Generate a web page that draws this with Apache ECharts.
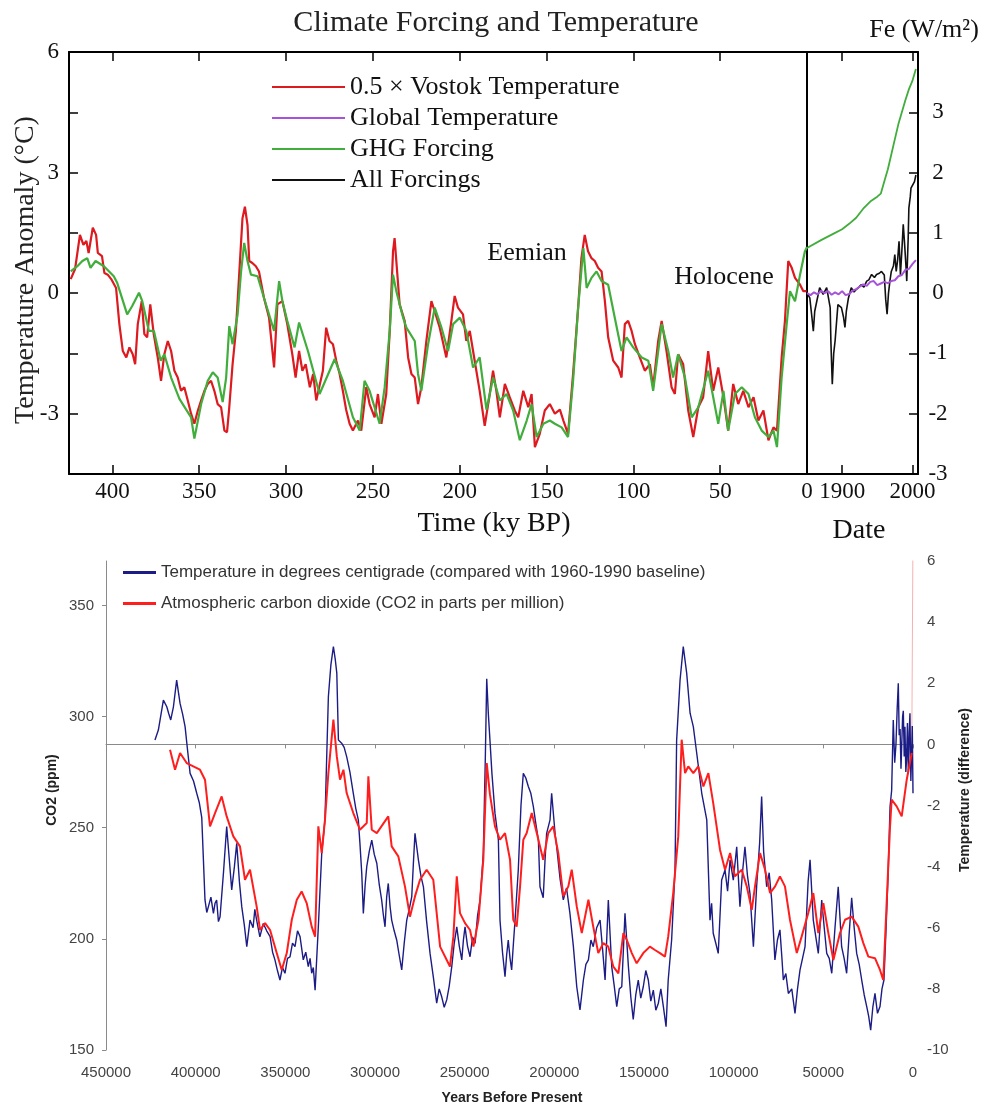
<!DOCTYPE html>
<html>
<head>
<meta charset="utf-8">
<title>Climate Forcing and Temperature</title>
<script src="https://cdn.jsdelivr.net/npm/echarts@6/dist/echarts.min.js"></script>
<style>
  html, body { margin: 0; padding: 0; background: #fff; }
  #chart { width: 986px; height: 1108px; }
</style>
</head>
<body>
<div id="chart"></div>
<script>
// ---------- Upper panel: Vostok record (ky before present) ----------
const vostokAgeKy = [424,421.5,418.7,416.7,415,413.7,411.3,409.4,408.4,406,404.6,402.7,400.7,397.9,396,394,392,390.2,388.3,386.9,385.4,383.1,381.6,380,378.2,376.2,373.9,372,370.1,368.1,366.2,364.3,362.4,360.5,358.6,356.6,354.7,352.8,350.8,348.9,347,345.1,343.2,341.3,339.4,337.4,335.5,334,332.7,330.8,328.9,327,325.1,323.7,322.2,321.2,319.4,317.4,315.6,312.7,309.8,306.9,305,302.1,299.3,296.4,294.5,292.5,290.6,288.7,286.3,284.4,282.6,280.7,278.8,276.9,275,273,271.1,269.2,267.3,265.4,263.4,261.5,258.6,256.7,253.8,251.9,249,247.1,245.1,242.3,240.3,238.4,237.5,236.5,234.6,231.7,229.7,227.8,225.9,224,222.1,219.2,216.3,214.4,211.5,207.7,204.8,202.9,201,198.1,196.2,194.2,192.3,188.5,185.6,183,180.8,178.9,176.9,174,171.2,168.3,166.3,163.4,160.5,158.6,156.7,153.9,151,148.1,145.2,142.3,140.3,137.6,134.7,131.8,129.9,128,126.1,124.1,122.2,120.3,118.3,116.4,114.5,111.6,108.7,106.8,104.9,103,101,99.1,96.3,93.4,90.5,88.6,85.7,83.7,80.9,78,76.1,74.2,71.3,68.4,65.5,62.6,59.8,56.9,54,51.1,48.1,45.4,42.5,39.6,36.7,33.7,30.8,28,25.1,22.2,19.3,17.3,14.6,12.7,10.8,8.8,6.9,4,2.1,0.2];
const vostokHalfTempC = [0.35,0.6,1.45,1.2,1.3,1.0,1.63,1.45,1.0,0.92,0.5,0.46,0.35,0.13,-0.77,-1.44,-1.6,-1.35,-1.52,-1.77,-0.77,-0.2,-1.02,-1.1,-0.28,-1.02,-1.6,-2.18,-1.52,-1.19,-1.44,-1.93,-2.1,-2.43,-2.34,-2.67,-3.0,-3.25,-2.92,-2.67,-2.43,-2.26,-2.18,-2.43,-2.76,-2.84,-3.42,-3.46,-2.84,-1.77,-0.94,0.46,1.86,2.15,1.7,0.8,0.75,0.67,0.54,-0.12,-0.61,-1.85,-0.28,-0.2,-0.77,-1.52,-2.1,-1.44,-1.93,-1.77,-2.34,-2.01,-2.67,-2.3,-1.93,-0.86,-1.19,-1.27,-1.68,-2.0,-2.43,-2.9,-3.25,-3.42,-3.17,-3.42,-2.34,-2.76,-3.09,-2.51,-3.25,-2.51,-0.94,1.04,1.37,0.8,-0.28,-0.69,-1.6,-2.01,-2.1,-2.76,-2.34,-1.19,-0.2,-0.45,-0.86,-1.6,-0.69,-0.07,-0.36,-0.53,-1.19,-0.94,-1.44,-2.43,-3.3,-2.6,-1.93,-2.43,-3.09,-2.26,-2.59,-2.92,-3.09,-2.43,-2.84,-2.51,-3.83,-3.5,-2.92,-2.76,-3.0,-2.9,-3.17,-3.5,-2.01,-0.36,0.87,1.45,1.04,0.87,0.8,0.63,0.54,-0.2,-1.1,-1.68,-1.85,-2.1,-0.77,-0.69,-0.94,-1.27,-1.6,-1.93,-1.77,-2.34,-1.19,-0.69,-1.44,-2.34,-2.51,-1.52,-1.77,-2.92,-3.58,-2.84,-2.59,-1.44,-2.43,-1.85,-2.59,-3.42,-2.26,-2.76,-2.43,-2.84,-2.59,-3.17,-2.92,-3.66,-3.34,-3.42,-1.6,-0.69,0.8,0.63,0.38,0.21,0.05,0.05];

// Paleo greenhouse-gas forcing, expressed on the temperature scale (1 W/m2 = 1.5 degC)
const ghgPaleoAgeKy = [424,420.2,417.3,414.5,412.6,409.7,404.9,399.2,397.2,391.5,388.6,384.7,382.8,379,376.1,372.2,370.1,366.2,361.4,354.7,352.8,348.9,345.1,342.2,339.4,336.5,334.5,332.7,330.8,327.9,325.9,324.1,322.2,320.2,316.4,312.7,306.9,304,302.1,299.3,295.1,292.5,287.4,280.7,272,267.3,261.5,257.6,254.8,251.9,246.1,243.2,240.3,238.4,236.5,232.6,230.7,225.9,224,222.1,218.2,214.4,210.5,206.7,203.8,199.9,196.2,192.3,188.5,184.6,180.7,176.9,173,169.2,165.4,161.4,158.6,155.7,151.8,148.1,145.2,141.3,137.6,134.7,131.8,128.8,126.9,124.1,121.2,118.3,114.5,110.7,106.8,103.9,100.1,95.2,91.4,88.6,83.7,79.9,77.1,74.2,70.3,66.4,62.6,56.9,51.1,48.1,45.4,41.5,37.6,33.7,30,26.1,22.2,19.3,17.3,14.6,11.7,9.8,6.9,4,1.2,0];
const ghgPaleoScaled = [0.54,0.67,0.8,0.87,0.63,0.8,0.67,0.42,0.25,-0.53,-0.32,0.01,-0.2,-0.94,-0.94,-1.68,-1.52,-2.1,-2.63,-3.09,-3.62,-2.76,-2.18,-1.97,-2.1,-2.71,-2.1,-0.82,-1.27,-0.53,0.54,1.25,0.8,0.46,0.42,-0.12,-0.94,0.3,-0.2,-0.69,-1.35,-0.73,-1.44,-2.51,-1.64,-2.18,-3.09,-3.42,-2.18,-2.43,-3.25,-2.34,-0.94,0.46,0.05,-0.61,-0.86,-1.19,-2.01,-2.43,-1.27,-0.36,-0.86,-1.44,-0.77,-0.61,-0.94,-1.85,-1.6,-2.9,-2.1,-2.67,-2.51,-2.92,-3.66,-3.17,-2.76,-3.58,-3.25,-3.17,-3.25,-3.34,-3.58,-2.18,-0.36,1.12,0.13,0.38,0.54,0.3,0.21,-0.61,-1.44,-1.1,-1.35,-1.6,-1.68,-2.43,-0.77,-1.44,-2.1,-1.52,-2.1,-3.09,-2.84,-1.93,-3.25,-2.43,-3.42,-2.51,-2.34,-2.51,-3.09,-3.42,-3.58,-3.42,-3.83,-2.1,-0.77,0.05,-0.2,0.46,1.04,1.15];

// ---------- Upper panel: instrumental era (calendar years) ----------
const ghgYear = [1850,1870,1890,1900,1910,1920,1930,1940,1950,1955,1960,1965,1970,1975,1980,1985,1990,1995,2000,2005];
const ghgWm2 = [0.75,0.88,1.0,1.06,1.15,1.25,1.4,1.52,1.6,1.65,1.85,2.05,2.3,2.55,2.8,3.0,3.2,3.38,3.52,3.72];

const globalYear = [1850,1855,1860,1865,1870,1875,1880,1885,1890,1895,1900,1905,1910,1915,1920,1925,1930,1935,1940,1945,1950,1955,1960,1965,1970,1975,1980,1985,1990,1995,2000,2005];
const globalTempC = [0.0,-0.05,0.02,-0.03,0.06,0.0,0.05,-0.04,0.02,-0.03,0.05,-0.05,-0.02,0.06,0.1,0.16,0.22,0.18,0.28,0.3,0.2,0.24,0.28,0.25,0.3,0.32,0.42,0.45,0.58,0.6,0.72,0.82];

const allForcingYear = [1850,1854,1857,1859,1861,1864,1868,1873,1878,1883,1884,1886,1888,1890,1894,1899,1902,1904,1906,1909,1913,1917,1920,1924,1927,1931,1935,1938,1942,1946,1949,1953,1956,1960,1962,1964,1966,1968,1970,1973,1975,1977,1979,1981,1982,1983,1985,1987,1989,1991,1992,1994,1995,1997,1998,2000,2003,2005];
const allForcingWm2 = [0,-0.08,-0.4,-0.63,-0.3,-0.13,0.09,-0.02,0.09,-0.24,-0.8,-1.51,-1.0,-0.79,-0.19,-0.24,-0.4,-0.57,-0.3,-0.08,0.09,0.02,0.06,0.1,0.14,0.1,0.2,0.22,0.31,0.26,0.31,0.33,0.36,0.3,-0.1,-0.35,0.0,0.2,0.36,0.45,0.64,0.36,0.55,0.86,0.6,0.3,0.7,1.14,0.8,0.42,0.2,0.9,1.41,1.6,1.74,1.75,1.85,1.96];

const dateTicks = [1900, 2000];

// ---------- Lower panel: ice-core temperature and CO2 (years before present) ----------
const tempAgeYr = [
  422700,420800,418000,416100,415000,413900,412400,410600,408700,407300,405900,404500,403100,401200,399400,398000,396600,394800,
  393800,392900,391500,390100,389200,388300,387300,386400,384500,382700,381200,379900,378400,377100,375600,374300,372900,371500,369700,368000,367000,366000,364200,362300,360400,358500,357100,355800,354400,353000,351600,350200,348800,347400,346000,344600,343200,341800,340000,338600,337200,336200,335300,334400,333400,
  331600,329700,327900,326000,324600,323200,322200,321300,320400,318600,317200,315800,314000,312100,
  310700,309300,308400,307400,306500,305500,304600,303200,301800,300400,299000,297600,296300,295300,294400,293500,292600,291600,290700,289300,287900,286500,285100,283700,282300,280900,279500,278600,277700,275800,274400,273000,271200,269300,267500,265600,264200,262800,261400,260000,258600,257200,255800,254400,253000,251600,250700,249800,248400,247000,245600,244200,242800,241400,
  239600,238500,237700,236800,235900,234800,233100,231200,230300,228900,227500,226600,225700,224700,223800,222800,221900,220100,218600,217300,215900,214500,213100,211700,210300,208900,208000,206200,205200,204300,202400,201500,199600,198700,196800,195000,193200,191300,189400,187500,185700,183800,182400,181000,179600,178300,176400,174500,173100,171700,169900,168000,166600,165200,163800,162400,160600,158700,157300,156000,154600,153200,151800,150400,149000,147600,146200,144800,143400,142000,140600,139200,137700,136500,134600,132700,
  131800,129900,128100,126200,124300,122500,120600,117800,115000,
  113200,112300,111400,110000,108600,106700,104800,103400,102000,100200,98300,96500,95100,93700,92300,90900,89000,87200,85500,84400,83300,81600,80200,78800,77000,75600,74200,73200,72300,70900,69500,67600,65800,64400,63000,61600,60200,58500,57400,55600,54200,52800,50900,49500,48100,46700,45300,43500,41700,39800,38400,37000,35600,34200,32800,31400,30000,28600,27200,25800,24700,23600,22400,21200,19800,18400,17300,16200,15000,13800,
  12800,11900,11000,10200,9500,8800,8200,7700,7200,6700,6300,5800,5400,4900,4500,4000,3600,3100,2600,2100,1700,1200,800,400,0
];
const tempDiffC = [
  0.14,0.47,1.45,1.23,1.0,0.8,1.23,2.1,1.34,1.0,0.58,-0.2,-0.95,-1.2,-1.6,-1.9,-2.4,-5.09,
  -5.5,-5.31,-5.0,-5.53,-5.2,-5.09,-5.8,-5.64,-4.2,-2.69,-3.8,-4.76,-4.0,-3.24,-4.5,-5.31,-5.9,-6.62,-5.75,-6.0,-5.4,-5.75,-6.3,-5.86,-6.1,-6.29,-6.8,-7.05,-7.4,-7.71,-7.3,-7.49,-7.0,-6.95,-6.5,-6.62,-6.1,-6.29,-7.05,-6.8,-7.27,-7.0,-7.49,-7.3,-8.04,
  -5.97,-3.56,-2.47,1.56,2.6,3.2,2.8,2.33,0.14,0.04,-0.1,-0.4,-0.9,-1.6,
  -2.1,-2.47,-3.24,-4.2,-5.53,-4.6,-4.0,-3.5,-3.13,-3.6,-3.89,-4.6,-5.09,-5.6,-5.97,-5.0,-4.55,-5.3,-5.75,-6.1,-6.4,-6.9,-7.38,-6.5,-5.75,-5.4,-4.98,-3.9,-2.91,-3.78,-4.3,-4.66,-5.8,-6.84,-7.6,-8.47,-8.0,-8.26,-8.6,-8.36,-7.9,-7.27,-6.5,-5.97,-6.6,-7.05,-6.4,-5.97,-6.6,-6.95,-6.3,-6.51,-5.6,-5.09,
  -3.56,-0.5,2.15,1.0,0.14,-0.95,-2.25,-3.13,-5.75,-6.8,-7.6,-6.9,-6.4,-7.0,-7.38,-6.5,-5.75,-4.11,-2.0,-0.95,-1.1,-1.38,-1.6,-2.04,-2.6,-3.13,-4.66,-5.02,-3.8,-2.91,-2.47,-1.6,-2.91,-3.35,-4.4,-5.09,-4.7,-5.53,-6.6,-7.93,-8.69,-7.71,-7.2,-7.05,-6.4,-6.62,-6.0,-5.75,-6.7,-7.71,-5.09,-7.27,-7.9,-8.58,-8.0,-7.93,-5.53,-7.27,-8.3,-9.0,-8.2,-7.71,-8.3,-7.93,-7.4,-7.71,-8.4,-8.04,-8.7,-8.47,-8.0,-8.58,-9.24,-7.71,-6.4,-4.11,
  0.14,2.1,3.2,2.33,1.02,0.58,-0.29,-1.6,-2.47,
  -5.75,-5.2,-6.18,-6.5,-6.84,-4.44,-4.11,-4.8,-3.78,-4.44,-3.35,-5.31,-4.2,-3.35,-4.3,-4.88,-6.62,-4.66,-3.2,-1.71,-3.5,-4.66,-4.2,-5.09,-7.05,-6.4,-6.07,-6.9,-7.71,-7.5,-8.15,-8.0,-8.8,-8.0,-7.38,-7.0,-6.62,-4.5,-3.78,-5.75,-6.3,-6.84,-5.09,-6.0,-6.84,-7.0,-7.49,-6.0,-4.66,-6.62,-7.0,-7.49,-6.2,-5.02,-6.0,-6.84,-7.2,-7.71,-8.2,-8.58,-8.9,-9.35,-8.6,-8.15,-8.8,-8.58,-8.0,-7.71,-6.0,-4.11,
  -2.04,-1.5,0.8,-0.6,0.0,1.2,2.0,0.3,0.5,-0.8,-0.07,0.9,1.1,-0.4,0.58,-0.9,-0.5,0.7,-0.95,0.4,1.02,-1.2,-0.4,0.6,-1.6
];

const co2AgeYr = [414300,411500,408700,405000,401300,397600,394800,392000,389200,385500,382700,379000,375300,372500,369700,366000,364100,361300,358500,354800,352000,349200,346400,343600,340900,338100,335300,333400,331600,329700,327900,326000,323200,321300,319500,317600,315800,312100,308400,304600,303700,301800,299000,292600,290700,287000,283300,280500,277700,274900,271200,267500,263700,260000,258200,256300,254400,252600,249800,247000,245100,242300,239600,237700,235900,233100,230300,227500,224700,222900,221000,219100,217300,215400,212600,209800,206200,203400,200600,197800,195000,192200,190300,187500,184700,181000,178300,175500,172700,169900,167100,164300,161500,159600,156800,154100,150400,146700,143900,141100,138300,136500,133700,130900,129000,127100,125300,122500,119700,116900,114100,111400,107600,104800,102000,99300,95500,92700,89900,88100,85300,82500,79700,76900,74200,71400,68600,64800,62100,58400,55600,52800,50000,47200,44400,40700,37900,34200,30500,27700,24900,21200,18400,16600,14700,12800,11900,9100,6300,3500,700];
const co2Ppm = [285.1,276.1,283.6,279.1,277.6,276.1,271.6,250.6,256.6,264.1,255.1,246.1,241.6,226.6,231.1,214.6,204,207.1,204,193.6,186,193.6,208.6,217.6,221.3,216.1,205.5,201,250.6,238.6,253.6,274.6,298.6,282.1,271.6,276.1,265.6,256.6,249.1,252.1,273.1,249.1,247.6,255.1,241.6,237.1,223.6,210,219.1,226.6,231.1,226.6,196.5,190.5,187.5,201,228.1,211.6,207.1,204,196.5,208.6,235.6,279.1,265,250.6,244.6,247.6,235.6,208.6,205.5,223.6,244.6,247.6,256.6,247.6,235.6,247.6,250.6,238.6,219.1,223.6,231.1,214.6,202.6,217.6,205.5,193.6,198.1,196.5,187.5,184.5,202.6,199.5,193.6,189,193.6,196.5,195,193.6,192,201,220.6,246.1,289.6,274.6,277.6,274.6,277.6,268.6,274.6,261.1,240,231.1,238.6,228.1,231.1,223.6,213.1,223.6,238.6,231.1,220.6,223.6,228.1,223.6,208.6,193.6,201,211.6,220.6,202.6,216.1,202.6,190.5,202.6,208.6,210,205.5,198.1,192,191.3,186,181.5,216.1,250.6,262.6,259.6,255.1,271.6,283.6];

// Modern CO2 rise, which runs off the top of the scale
const co2RecentAgeYr = [700, 0];
const co2RecentPpm = [283.6, 382];

const co2TickValues = [150, 200, 250, 300, 350];

const zip = (xs, ys) => xs.map((x, i) => [x, ys[i]]);
const plain = v => String(v);

const serif = 'Liberation Serif';
const sans = 'Liberation Sans';

const NAME_VOSTOK = '0.5 \u00d7 Vostok Temperature';
const NAME_GLOBAL = 'Global Temperature';
const NAME_GHG = 'GHG Forcing';
const NAME_ALL = 'All Forcings';
const NAME_TEMP = 'Temperature in degrees centigrade (compared with 1960-1990 baseline)';
const NAME_CO2 = 'Atmospheric carbon dioxide (CO2 in parts per million)';

const C_RED = '#dc1a1f';
const C_GREEN = '#41ad3c';
const C_PURPLE = '#a653d9';
const C_BLACK = '#111111';
const C_NAVY = '#1c1c86';
const C_CO2 = '#ff1e1e';

const blackLine = { onZero: false, lineStyle: { color: '#000', width: 2 } };
const serifLabel = { fontFamily: serif, fontSize: 23, color: '#111' };
const sansLabel = { fontFamily: sans, fontSize: 15, color: '#444' };

const chart = echarts.init(document.getElementById('chart'), null, { renderer: 'canvas' });

chart.setOption({
  animation: false,
  backgroundColor: '#ffffff',
  grid: [
    { left: 69, top: 52, width: 738, height: 422 },   // paleo panel
    { left: 807, top: 52, width: 111, height: 422 },  // 1850-2008 panel
    { left: 106, top: 561, width: 807, height: 489 }  // ice-core CO2 panel
  ],
  xAxis: [
    { // 0: ky BP, bottom
      gridIndex: 0, type: 'value', min: 0, max: 425, interval: 50, inverse: true, position: 'bottom',
      axisLine: blackLine, splitLine: { show: false },
      axisTick: { inside: true, length: 9, lineStyle: { color: '#000', width: 1.5 } },
      axisLabel: { ...serifLabel, margin: 6, formatter: v => (v % 50 === 0 ? String(v) : '') }
    },
    { // 1: ky BP, top ticks
      gridIndex: 0, type: 'value', min: 0, max: 425, interval: 50, inverse: true, position: 'top',
      axisLine: blackLine, splitLine: { show: false },
      axisTick: { inside: true, length: 9, lineStyle: { color: '#000', width: 1.5 } },
      axisLabel: { show: false }
    },
    { // 2: calendar years, bottom
      gridIndex: 1, type: 'value', min: 1850, max: 2008, position: 'bottom',
      axisLine: blackLine, splitLine: { show: false },
      axisTick: { inside: true, length: 9, customValues: dateTicks, lineStyle: { color: '#000', width: 1.5 } },
      axisLabel: { ...serifLabel, margin: 6, customValues: dateTicks, formatter: plain }
    },
    { // 3: calendar years, top ticks
      gridIndex: 1, type: 'value', min: 1850, max: 2008, position: 'top',
      axisLine: blackLine, splitLine: { show: false },
      axisTick: { inside: true, length: 9, customValues: dateTicks, lineStyle: { color: '#000', width: 1.5 } },
      axisLabel: { show: false }
    },
    { // 4: years before present, labels only
      gridIndex: 2, type: 'value', min: 0, max: 450000, interval: 50000, inverse: true, position: 'bottom',
      axisLine: { show: false, onZero: false }, axisTick: { show: false }, splitLine: { show: false },
      axisLabel: { ...sansLabel, margin: 15, formatter: plain }
    },
    { // 5: baseline at zero temperature difference
      gridIndex: 2, type: 'value', min: 0, max: 450000, interval: 50000, inverse: true, position: 'bottom',
      axisLine: { show: true, onZero: true, onZeroAxisIndex: 4, lineStyle: { color: '#8a8a8a', width: 1 } },
      axisTick: { show: true, length: 4, lineStyle: { color: '#8a8a8a' } },
      axisLabel: { show: false }, splitLine: { show: false }
    }
  ],
  yAxis: [
    { // 0: temperature anomaly (paleo panel)
      gridIndex: 0, type: 'value', min: -4.5, max: 6, interval: 1.5, position: 'left',
      axisLine: blackLine, splitLine: { show: false },
      axisTick: { inside: true, length: 9, lineStyle: { color: '#000', width: 1.5 } },
      axisLabel: { ...serifLabel, margin: 10, formatter: v => (Math.abs(v % 3) < 1e-9 ? String(Math.round(v)) : '') }
    },
    { // 1: temperature anomaly (instrumental panel), divider line only
      gridIndex: 1, type: 'value', min: -4.5, max: 6, position: 'left',
      axisLine: blackLine, axisTick: { show: false }, axisLabel: { show: false }, splitLine: { show: false }
    },
    { // 2: forcing in W/m2
      gridIndex: 1, type: 'value', min: -3, max: 4, interval: 1, position: 'right',
      axisLine: blackLine, splitLine: { show: false },
      axisTick: { inside: true, length: 9, lineStyle: { color: '#000', width: 1.5 } },
      axisLabel: { ...serifLabel, margin: 20, align: 'center', formatter: v => (v === 4 ? '' : String(v)) }
    },
    { // 3: CO2 ppm
      gridIndex: 2, type: 'value', min: 150, max: 370, interval: 50, position: 'left',
      axisLine: { show: true, onZero: false, lineStyle: { color: '#8a8a8a', width: 1 } },
      axisTick: { show: true, length: 4, customValues: co2TickValues, lineStyle: { color: '#8a8a8a' } },
      splitLine: { show: false },
      axisLabel: { ...sansLabel, margin: 12, customValues: co2TickValues, formatter: plain }
    },
    { // 4: temperature difference
      gridIndex: 2, type: 'value', min: -10, max: 6, interval: 2, position: 'right',
      axisLine: { show: false, onZero: false }, axisTick: { show: false }, splitLine: { show: false },
      axisLabel: { ...sansLabel, margin: 14 }
    }
  ],
  legend: [
    {
      data: [NAME_VOSTOK, NAME_GLOBAL, NAME_GHG, NAME_ALL],
      orient: 'vertical', left: 267, top: 69,
      icon: 'rect', itemWidth: 73, itemHeight: 2, itemGap: 5,
      textStyle: { fontFamily: serif, fontSize: 26, color: '#111', lineHeight: 26 },
      selectedMode: false
    },
    {
      data: [NAME_TEMP, NAME_CO2],
      orient: 'vertical', left: 118, top: 558,
      icon: 'rect', itemWidth: 33, itemHeight: 3, itemGap: 12,
      textStyle: { fontFamily: sans, fontSize: 17, color: '#333', lineHeight: 19 },
      selectedMode: false
    }
  ],
  graphic: [
    { type: 'text', x: 496, y: 23, style: { text: 'Climate Forcing and Temperature', font: '30px "Liberation Serif"', fill: '#222', align: 'center', verticalAlign: 'middle' } },
    { type: 'text', x: 924, y: 30, style: { text: 'Fe (W/m\u00b2)', font: '26px "Liberation Serif"', fill: '#111', align: 'center', verticalAlign: 'middle' } },
    { type: 'text', x: 527, y: 253, style: { text: 'Eemian', font: '26px "Liberation Serif"', fill: '#111', align: 'center', verticalAlign: 'middle' } },
    { type: 'text', x: 724, y: 277, style: { text: 'Holocene', font: '26px "Liberation Serif"', fill: '#111', align: 'center', verticalAlign: 'middle' } },
    { type: 'text', x: 494, y: 524, style: { text: 'Time (ky BP)', font: '28px "Liberation Serif"', fill: '#111', align: 'center', verticalAlign: 'middle' } },
    { type: 'text', x: 859, y: 531, style: { text: 'Date', font: '28px "Liberation Serif"', fill: '#111', align: 'center', verticalAlign: 'middle' } },
    { type: 'text', x: 26, y: 270, rotation: Math.PI / 2, style: { text: 'Temperature Anomaly (\u00b0C)', font: '28px "Liberation Serif"', fill: '#222', align: 'center', verticalAlign: 'middle' } },
    { type: 'text', x: 52, y: 790, rotation: Math.PI / 2, style: { text: 'CO2 (ppm)', font: 'bold 14px "Liberation Sans"', fill: '#222', align: 'center', verticalAlign: 'middle' } },
    { type: 'text', x: 965, y: 790, rotation: Math.PI / 2, style: { text: 'Temperature (difference)', font: 'bold 14px "Liberation Sans"', fill: '#222', align: 'center', verticalAlign: 'middle' } },
    { type: 'text', x: 512, y: 1098, style: { text: 'Years Before Present', font: 'bold 14px "Liberation Sans"', fill: '#222', align: 'center', verticalAlign: 'middle' } }
  ],
  series: [
    {
      name: NAME_VOSTOK, type: 'line', xAxisIndex: 0, yAxisIndex: 0,
      data: zip(vostokAgeKy, vostokHalfTempC), showSymbol: false,
      lineStyle: { color: C_RED, width: 2.2 }, itemStyle: { color: C_RED }, z: 2
    },
    {
      name: NAME_GHG, type: 'line', xAxisIndex: 0, yAxisIndex: 0,
      data: zip(ghgPaleoAgeKy, ghgPaleoScaled), showSymbol: false,
      lineStyle: { color: C_GREEN, width: 2.2 }, itemStyle: { color: C_GREEN }, z: 3
    },
    {
      name: NAME_GHG, type: 'line', xAxisIndex: 2, yAxisIndex: 2,
      data: zip(ghgYear, ghgWm2), showSymbol: false,
      lineStyle: { color: C_GREEN, width: 1.8 }, itemStyle: { color: C_GREEN }, z: 3
    },
    {
      name: NAME_ALL, type: 'line', xAxisIndex: 2, yAxisIndex: 2,
      data: zip(allForcingYear, allForcingWm2), showSymbol: false,
      lineStyle: { color: C_BLACK, width: 1.6 }, itemStyle: { color: C_BLACK }, z: 3
    },
    {
      name: NAME_GLOBAL, type: 'line', xAxisIndex: 2, yAxisIndex: 1,
      data: zip(globalYear, globalTempC), showSymbol: false,
      lineStyle: { color: C_PURPLE, width: 2 }, itemStyle: { color: C_PURPLE }, z: 4
    },
    {
      name: NAME_TEMP, type: 'line', xAxisIndex: 4, yAxisIndex: 4,
      data: zip(tempAgeYr, tempDiffC), showSymbol: false,
      lineStyle: { color: C_NAVY, width: 1.4 }, itemStyle: { color: C_NAVY }, z: 2
    },
    {
      name: NAME_CO2, type: 'line', xAxisIndex: 4, yAxisIndex: 3,
      data: zip(co2AgeYr, co2Ppm), showSymbol: false,
      lineStyle: { color: C_CO2, width: 2 }, itemStyle: { color: C_CO2 }, z: 3
    },
    {
      name: 'CO2 recent', type: 'line', xAxisIndex: 4, yAxisIndex: 3,
      data: zip(co2RecentAgeYr, co2RecentPpm), showSymbol: false, clip: true,
      lineStyle: { color: '#f7b0b0', width: 1 }, z: 1
    }
  ]
});
</script>
</body>
</html>
